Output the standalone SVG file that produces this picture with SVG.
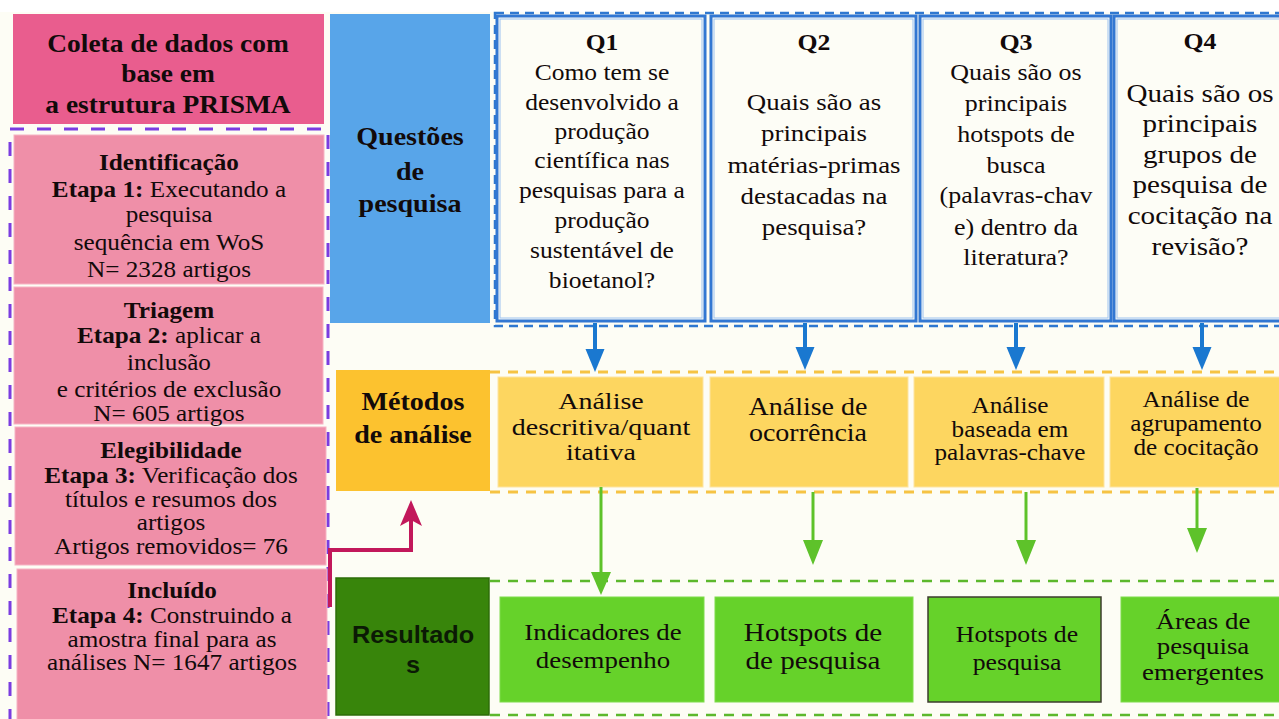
<svg xmlns="http://www.w3.org/2000/svg" width="1279" height="719" viewBox="0 0 1279 719">
<style>
.s{font-family:"Liberation Serif","Times New Roman",serif;fill:#120a0a;text-anchor:middle}
.b{font-weight:bold}
.a{font-family:"Liberation Sans",Arial,sans-serif;font-weight:bold;fill:#0b1a05;text-anchor:middle}
.pk{fill:#ef8fa8;stroke:#f6b3c4;stroke-width:1}
.qb{fill:#fdfdf6;stroke:#3277d2;stroke-width:3}
.qi{fill:none;stroke:#9cc2f0;stroke-width:1}
.yb{fill:#fdd660;stroke:#fde4a0;stroke-width:1}
.gb{fill:#66d22a;stroke:#7fdc4a;stroke-width:1}
</style>
<rect x="0" y="0" width="1279" height="719" fill="#fdfdf5"/>
<rect x="0" y="0" width="1279" height="12" fill="#ffffff"/>

<g id="frames" fill="none">
  <rect x="10" y="129" width="318" height="600" stroke="#7a3de0" stroke-width="3" stroke-dasharray="14 13"/>
  <rect x="495" y="13" width="800" height="313" stroke="#2f78d0" stroke-width="2.5" stroke-dasharray="9 6"/>
  <path d="M490,372 H1290 M490,492 H1290" stroke="#f6c343" stroke-width="3" stroke-dasharray="10 8"/>
  <path d="M490,581 H1290 M490,715 H1290" stroke="#5cb82c" stroke-width="2.5" stroke-dasharray="10 8"/>
</g>

<g id="header">
  <rect x="13" y="14" width="311" height="110" fill="#e95d8e"/>
  <g transform="translate(168 0) scale(1.12 1)">
    <text class="s b" font-size="24.5" x="0" y="52">Coleta de dados com</text>
    <text class="s b" font-size="24.5" x="0" y="82">base em</text>
    <text class="s b" font-size="24.5" x="0" y="113">a estrutura PRISMA</text>
  </g>
</g>

<g id="identificacao">
  <rect class="pk" x="14" y="135" width="310" height="149"/>
  <g transform="translate(169 0) scale(1.12 1)" font-size="22.5">
    <text class="s b" x="0" y="170">Identificação</text>
    <text class="s" x="0" y="197"><tspan class="b">Etapa 1:</tspan> Executando a</text>
    <text class="s" x="0" y="222">pesquisa</text>
    <text class="s" x="0" y="250">sequência em WoS</text>
    <text class="s" x="0" y="277">N= 2328 artigos</text>
  </g>
</g>

<g id="triagem">
  <rect class="pk" x="14" y="287" width="309" height="137"/>
  <g transform="translate(169 0) scale(1.12 1)" font-size="22.5">
    <text class="s b" x="0" y="318">Triagem</text>
    <text class="s" x="0" y="343"><tspan class="b">Etapa 2:</tspan> aplicar a</text>
    <text class="s" x="0" y="370">inclusão</text>
    <text class="s" x="0" y="397">e critérios de exclusão</text>
    <text class="s" x="0" y="421">N= 605 artigos</text>
  </g>
</g>

<g id="elegibilidade">
  <rect class="pk" x="15" y="427" width="311" height="138"/>
  <g transform="translate(171 0) scale(1.12 1)" font-size="22.5">
    <text class="s b" x="0" y="458">Elegibilidade</text>
    <text class="s" x="0" y="483"><tspan class="b">Etapa 3:</tspan> Verificação dos</text>
    <text class="s" x="0" y="507">títulos e resumos dos</text>
    <text class="s" x="0" y="530">artigos</text>
    <text class="s" x="0" y="554">Artigos removidos= 76</text>
  </g>
</g>

<g id="incluido">
  <rect class="pk" x="17" y="569" width="310" height="155"/>
  <g transform="translate(172 0) scale(1.12 1)" font-size="22.5">
    <text class="s b" x="0" y="598">Incluído</text>
    <text class="s" x="0" y="623"><tspan class="b">Etapa 4:</tspan> Construindo a</text>
    <text class="s" x="0" y="647">amostra final para as</text>
    <text class="s" x="0" y="670">análises N= 1647 artigos</text>
  </g>
</g>

<g id="questoes">
  <rect x="330" y="14" width="160" height="309" fill="#58a5e9"/>
  <g transform="translate(410 0) scale(1.1 1)" font-size="25.5">
    <text class="s b" x="0" y="145">Questões</text>
    <text class="s b" x="0" y="180">de</text>
    <text class="s b" x="0" y="212">pesquisa</text>
  </g>
</g>

<g id="q1">
  <rect class="qb" x="497" y="16" width="208" height="305"/>
  <rect class="qi" x="500" y="19" width="202" height="299"/>
  <g transform="translate(602 0) scale(1.11 1)" font-size="23">
    <text class="s b" x="0" y="50">Q1</text>
    <text class="s" x="0" y="80">Como tem se</text>
    <text class="s" x="0" y="110">desenvolvido a</text>
    <text class="s" x="0" y="139">produção</text>
    <text class="s" x="0" y="168">científica nas</text>
    <text class="s" x="0" y="198">pesquisas para a</text>
    <text class="s" x="0" y="228">produção</text>
    <text class="s" x="0" y="258">sustentável de</text>
    <text class="s" x="0" y="288">bioetanol?</text>
  </g>
</g>

<g id="q2">
  <rect class="qb" x="711" y="16" width="205" height="305"/>
  <rect class="qi" x="714" y="19" width="199" height="299"/>
  <g transform="translate(814 0) scale(1.12 1)" font-size="24">
    <text class="s b" x="0" y="50" font-size="23">Q2</text>
    <text class="s" x="0" y="110">Quais são as</text>
    <text class="s" x="0" y="141">principais</text>
    <text class="s" x="0" y="173">matérias-primas</text>
    <text class="s" x="0" y="204">destacadas na</text>
    <text class="s" x="0" y="235">pesquisa?</text>
  </g>
</g>

<g id="q3">
  <rect class="qb" x="920" y="16" width="191" height="305"/>
  <rect class="qi" x="923" y="19" width="185" height="299"/>
  <g transform="translate(1016 0) scale(1.13 1)" font-size="23">
    <text class="s b" x="0" y="50">Q3</text>
    <text class="s" x="0" y="80">Quais são os</text>
    <text class="s" x="0" y="111">principais</text>
    <text class="s" x="0" y="142">hotspots de</text>
    <text class="s" x="0" y="173">busca</text>
    <text class="s" x="0" y="203">(palavras-chav</text>
    <text class="s" x="0" y="235">e) dentro da</text>
    <text class="s" x="0" y="265">literatura?</text>
  </g>
</g>

<g id="q4">
  <rect class="qb" x="1114" y="16" width="180" height="305"/>
  <rect class="qi" x="1117" y="19" width="174" height="299"/>
  <g transform="translate(1200 0) scale(1.12 1)" font-size="26">
    <text class="s b" x="0" y="49" font-size="23">Q4</text>
    <text class="s" x="0" y="102">Quais são os</text>
    <text class="s" x="0" y="132">principais</text>
    <text class="s" x="0" y="163">grupos de</text>
    <text class="s" x="0" y="193">pesquisa de</text>
    <text class="s" x="0" y="224">cocitação na</text>
    <text class="s" x="0" y="255">revisão?</text>
  </g>
</g>

<g id="metodos">
  <rect x="336" y="370" width="154" height="121" fill="#fcc22f"/>
  <g transform="translate(413 0) scale(1.1 1)" font-size="25.5">
    <text class="s b" x="0" y="410">Métodos</text>
    <text class="s b" x="0" y="443">de análise</text>
  </g>
</g>

<g id="m1">
  <rect class="yb" x="498" y="377" width="205" height="110"/>
  <g transform="translate(601 0) scale(1.2 1)" font-size="23.3">
    <text class="s" x="0" y="409">Análise</text>
    <text class="s" x="0" y="435">descritiva/quant</text>
    <text class="s" x="0" y="460">itativa</text>
  </g>
</g>

<g id="m2">
  <rect class="yb" x="710" y="377" width="198" height="110"/>
  <g transform="translate(808 0) scale(1.12 1)" font-size="25">
    <text class="s" x="0" y="415">Análise de</text>
    <text class="s" x="0" y="441">ocorrência</text>
  </g>
</g>

<g id="m3">
  <rect class="yb" x="914" y="377" width="190" height="110"/>
  <g transform="translate(1010 0) scale(1.12 1)" font-size="22.5">
    <text class="s" x="0" y="413">Análise</text>
    <text class="s" x="0" y="437">baseada em</text>
    <text class="s" x="0" y="460">palavras-chave</text>
  </g>
</g>

<g id="m4">
  <rect class="yb" x="1110" y="377" width="180" height="110"/>
  <g transform="translate(1196 0) scale(1.12 1)" font-size="22.5">
    <text class="s" x="0" y="407">Análise de</text>
    <text class="s" x="0" y="431">agrupamento</text>
    <text class="s" x="0" y="455">de cocitação</text>
  </g>
</g>

<g id="resultados">
  <rect x="336" y="578" width="153" height="137" fill="#38850b" stroke="#2c6d08" stroke-width="1.5"/>
  <g transform="translate(413 0) scale(1.1 1)" font-size="23">
    <text class="a" x="0" y="643">Resultado</text>
    <text class="a" x="0" y="673">s</text>
  </g>
</g>

<g id="r1">
  <rect class="gb" x="500" y="597" width="204" height="105"/>
  <g transform="translate(603 0) scale(1.12 1)" font-size="24">
    <text class="s" x="0" y="640">Indicadores de</text>
    <text class="s" x="0" y="668">desempenho</text>
  </g>
</g>

<g id="r2">
  <rect class="gb" x="715" y="597" width="198" height="105"/>
  <g transform="translate(813 0) scale(1.12 1)" font-size="26">
    <text class="s" x="0" y="641">Hotspots de</text>
    <text class="s" x="0" y="669">de pesquisa</text>
  </g>
</g>

<g id="r3">
  <rect x="928" y="597" width="173" height="105" fill="#66d22a" stroke="#3d3d2e" stroke-width="1.5"/>
  <g transform="translate(1017 0) scale(1.12 1)" font-size="23">
    <text class="s" x="0" y="642">Hotspots de</text>
    <text class="s" x="0" y="670">pesquisa</text>
  </g>
</g>

<g id="r4">
  <rect class="gb" x="1121" y="597" width="170" height="105"/>
  <g transform="translate(1203 0) scale(1.12 1)" font-size="24">
    <text class="s" x="0" y="629">Áreas de</text>
    <text class="s" x="0" y="654">pesquisa</text>
    <text class="s" x="0" y="680">emergentes</text>
  </g>
</g>

<g id="connectors">
  <g stroke="#1a78d0" stroke-width="4" fill="none">
    <line x1="595" y1="323" x2="595" y2="351"/>
    <line x1="805" y1="323" x2="805" y2="349"/>
    <line x1="1016" y1="323" x2="1016" y2="349"/>
    <line x1="1202" y1="323" x2="1202" y2="349"/>
  </g>
  <g fill="#1a78d0">
    <polygon points="585.5,349 604.5,349 595,372"/>
    <polygon points="795.5,347 814.5,347 805,370"/>
    <polygon points="1006.5,347 1025.5,347 1016,370"/>
    <polygon points="1192.5,347 1211.5,347 1202,370"/>
  </g>
  <g stroke="#5ec22a" stroke-width="3" fill="none">
    <line x1="601" y1="487" x2="601" y2="574"/>
    <line x1="813" y1="492" x2="813" y2="542"/>
    <line x1="1026" y1="492" x2="1026" y2="542"/>
    <line x1="1197" y1="488" x2="1197" y2="530"/>
  </g>
  <g fill="#5ec22a">
    <polygon points="591,572 611,572 601,595"/>
    <polygon points="803,540 823,540 813,565"/>
    <polygon points="1016,540 1036,540 1026,565"/>
    <polygon points="1187,528 1207,528 1197,553"/>
  </g>
  <polyline points="330,607 330,550 411,550 411,520" fill="none" stroke="#c2185b" stroke-width="4"/>
  <path d="M400,526 L411,500 L422,526 L411,520 Z" fill="#c2185b"/>
</g>
</svg>
